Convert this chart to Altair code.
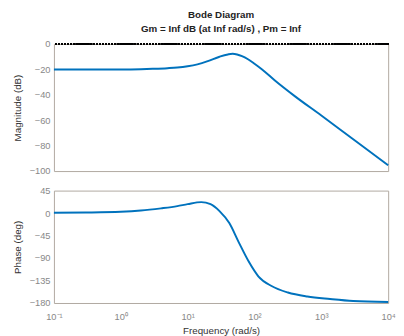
import altair as alt
import pandas as pd

# Magnitude readings (rad/s, dB)
mag_freq = [0.1, 0.3, 1, 2, 3, 5, 7, 10, 14, 20, 30, 40, 47, 55, 65, 80, 100, 130, 200, 400, 1000, 3000, 10000]
mag_db = [-20, -20, -20, -19.8, -19.5, -19, -18.5, -17.5, -16, -13.5, -10, -8.2, -7.7, -8.2, -9.5, -12, -15.5, -20, -28.5, -41, -56.3, -75, -95.4]

# Phase readings (rad/s, deg)
ph_freq = [0.1, 0.3, 1, 2, 4, 7, 10, 16, 22, 30, 42, 58, 82, 115, 180, 316, 617, 1350, 3000, 10000]
ph_deg = [0.5, 1, 2.5, 5, 9.5, 14, 18, 22, 18, 4, -20, -58, -97, -127, -146, -159, -167, -172, -176, -178]

x_ticks = [0.1, 1, 10, 100, 1000, 10000]
mag_ticks = [0, -20, -40, -60, -80, -100]
ph_ticks = [45, 0, -45, -90, -135, -180]

mag_df = pd.DataFrame({"f": mag_freq, "v": mag_db})
ph_df = pd.DataFrame({"f": ph_freq, "v": ph_deg})

BLUE = "#0072BD"
label_expr = ("datum.value < 0.5 ? '10⁻¹' : datum.value < 5 ? '10⁰' : datum.value < 50 ? '10¹' : "
              "datum.value < 500 ? '10²' : datum.value < 5000 ? '10³' : '10⁴'")

xscale = alt.Scale(type="log", domain=[0.1, 10000], nice=False)
mag_axis = alt.Axis(values=mag_ticks, title="Magnitude (dB)", grid=False, domain=False, ticks=False,
                    labelOverlap=False, labelPadding=4, minExtent=28, maxExtent=28)

mag_line = alt.Chart(mag_df).mark_line(color=BLUE, strokeWidth=2, interpolate="monotone").encode(
    x=alt.X("f:Q", scale=xscale, axis=None),
    y=alt.Y("v:Q", scale=alt.Scale(domain=[-100, 0], nice=False), axis=mag_axis),
)
zero_rule = alt.Chart(mag_df).mark_rule(color="black", strokeWidth=2, strokeDash=[1.5, 1.5]).encode(
    y=alt.Y(datum=0, axis=mag_axis)
)

mag = alt.layer(mag_line, zero_rule).properties(
    width=342, height=130,
    title=alt.TitleParams(["Bode Diagram", "Gm = Inf dB (at Inf rad/s) ,  Pm = Inf"], fontSize=10,
                          fontWeight="bold", font="Liberation Sans", color="#222", lineHeight=15, offset=5,
                          anchor="middle"),
)

ph = alt.Chart(ph_df).mark_line(color=BLUE, strokeWidth=2, interpolate="monotone").encode(
    x=alt.X("f:Q", scale=xscale,
            axis=alt.Axis(values=x_ticks, labelExpr=label_expr, title="Frequency  (rad/s)", grid=False,
                          domain=False, ticks=False, labelPadding=9, titlePadding=5, labelOverlap=False,
                          labelFlush=False)),
    y=alt.Y("v:Q", scale=alt.Scale(domain=[-180, 45], nice=False),
            axis=alt.Axis(values=ph_ticks, title="Phase (deg)", grid=False, domain=False, ticks=False,
                          labelOverlap=False, labelPadding=4, minExtent=28, maxExtent=28)),
).properties(width=342, height=115)

chart = alt.vconcat(mag, ph, spacing=9).properties(padding={"left": 4, "top": -3, "right": 0, "bottom": 0}).configure_view(
    stroke="#b0a8a0", strokeWidth=1
).configure_axis(
    labelFont="Liberation Sans", titleFont="Liberation Sans", labelFontSize=9.5, titleFontSize=10,
    labelColor="#888888", titleColor="#333333", titleFontWeight="normal", labelOverlap=False
)

chart.save("out.html", embed_options={"renderer": "svg", "actions": False})
